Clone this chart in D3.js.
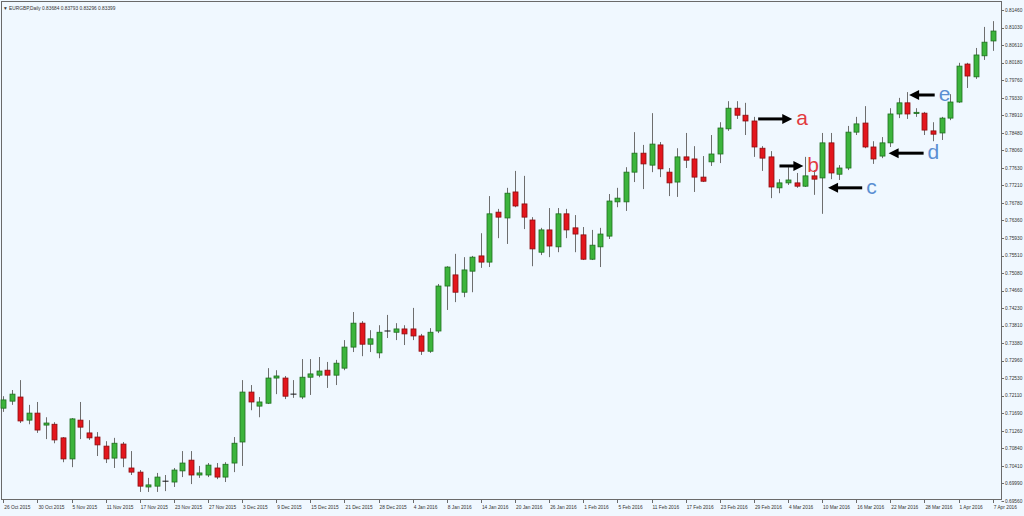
<!DOCTYPE html>
<html>
<head>
<meta charset="utf-8">
<script src="https://cdn.jsdelivr.net/npm/d3@7"></script>
<style>
  body { margin: 0; background: #f0f8ff; overflow: hidden; }
  text { font-family: "Liberation Sans", Arial, sans-serif; }
</style>
</head>
<body>
<div id="chart"></div>
<script>
// daily EURGBP candles, 26 Oct 2015 .. 7 Apr 2016
const open = [
  .7181, .7198, .7208, .7152, .7169, .7140, .7142, .7109, .7058, .7152,
  .7121, .7111, .7089, .7060, .7094, .7036, .7026, .6990, .6992, .7004,
  .7002, .7029, .7055, .7019, .7019, .7036, .7014, .7048, .7099, .7220,
  .7186, .7193, .7254, .7254, .7215, .7208, .7256, .7261, .7273, .7261,
  .7278, .7329, .7387, .7336, .7315, .7368, .7365, .7373, .7373, .7356,
  .7319, .7368, .7477, .7504, .7462, .7513, .7550, .7535, .7656, .7642,
  .7705, .7676, .7637, .7559, .7613, .7572, .7652, .7618, .7601, .7542,
  .7572, .7598, .7681, .7681, .7753, .7799, .7770, .7819, .7753, .7729,
  .7790, .7785, .7741, .7778, .7797, .7858, .7908, .7891, .7877, .7811,
  .7790, .7715, .7727, .7727, .7719, .7744, .7739, .7824, .7748, .7763,
  .7850, .7872, .7814, .7792, .7824, .7894, .7921, .7895, .7896, .7853,
  .7848, .7884, .7923, .8015, .7984, .8035, .8071
];
const high = [
  .7210, .7225, .7249, .7189, .7196, .7159, .7147, .7111, .7157, .7196,
  .7152, .7123, .7101, .7109, .7099, .7077, .7031, .7012, .7024, .7019,
  .7036, .7077, .7077, .7041, .7048, .7048, .7050, .7111, .7249, .7237,
  .7208, .7278, .7273, .7259, .7249, .7300, .7300, .7305, .7293, .7298,
  .7346, .7414, .7392, .7370, .7382, .7407, .7387, .7382, .7424, .7361,
  .7375, .7482, .7525, .7555, .7547, .7550, .7605, .7695, .7664, .7715,
  .7756, .7744, .7644, .7618, .7666, .7666, .7664, .7649, .7620, .7613,
  .7618, .7700, .7715, .7765, .7850, .7819, .7896, .7826, .7763, .7811,
  .7848, .7816, .7792, .7843, .7874, .7925, .7925, .7921, .7887, .7816,
  .7804, .7736, .7765, .7751, .7790, .7758, .7848, .7848, .7770, .7865,
  .7887, .7913, .7828, .7838, .7908, .7933, .7947, .7908, .7899, .7874,
  .7887, .7942, .8018, .8018, .8054, .8105, .8119
];
const low = [
  .7172, .7189, .7145, .7142, .7121, .7106, .7096, .7050, .7038, .7106,
  .7104, .7065, .7048, .7036, .7038, .7019, .6978, .6978, .6978, .6980,
  .6990, .7014, .6997, .7012, .7014, .7009, .7002, .7026, .7041, .7176,
  .7159, .7191, .7215, .7203, .7206, .7203, .7213, .7256, .7230, .7237,
  .7273, .7317, .7307, .7317, .7302, .7351, .7346, .7334, .7346, .7310,
  .7315, .7363, .7419, .7438, .7450, .7462, .7521, .7523, .7593, .7579,
  .7668, .7615, .7525, .7552, .7547, .7559, .7593, .7559, .7540, .7540,
  .7523, .7591, .7668, .7659, .7729, .7712, .7753, .7741, .7695, .7693,
  .7763, .7705, .7729, .7768, .7775, .7853, .7882, .7843, .7790, .7756,
  .7690, .7702, .7722, .7715, .7717, .7698, .7652, .7736, .7734, .7758,
  .7843, .7811, .7773, .7787, .7814, .7884, .7882, .7887, .7843, .7828,
  .7831, .7879, .7921, .7957, .7979, .8025, .8047
];
const close = [
  .7201, .7215, .7150, .7169, .7128, .7145, .7104, .7058, .7155, .7135,
  .7109, .7092, .7058, .7096, .7060, .7026, .6992, .6995, .7014, .7004,
  .7031, .7048, .7019, .7024, .7043, .7014, .7045, .7096, .7220, .7196,
  .7196, .7254, .7259, .7210, .7215, .7256, .7264, .7271, .7261, .7290,
  .7329, .7387, .7336, .7349, .7365, .7368, .7373, .7361, .7356, .7319,
  .7365, .7477, .7523, .7462, .7516, .7547, .7535, .7652, .7644, .7702,
  .7671, .7644, .7567, .7613, .7574, .7652, .7613, .7603, .7542, .7576,
  .7603, .7683, .7690, .7753, .7799, .7773, .7821, .7761, .7727, .7790,
  .7782, .7741, .7731, .7797, .7860, .7908, .7891, .7877, .7814, .7787,
  .7717, .7727, .7734, .7719, .7744, .7736, .7824, .7751, .7763, .7850,
  .7870, .7814, .7785, .7824, .7894, .7921, .7894, .7898, .7855, .7845,
  .7884, .7923, .8010, .7986, .8037, .8068, .8095
];

// no bars on these days
const holidays = ["25 Dec 2015", "1 Jan 2016"];

const xTickLabels = [
  "26 Oct 2015", "30 Oct 2015", "5 Nov 2015", "11 Nov 2015", "17 Nov 2015",
  "23 Nov 2015", "27 Nov 2015", "3 Dec 2015", "9 Dec 2015", "15 Dec 2015",
  "21 Dec 2015", "28 Dec 2015", "4 Jan 2016", "8 Jan 2016", "14 Jan 2016",
  "20 Jan 2016", "26 Jan 2016", "1 Feb 2016", "5 Feb 2016", "11 Feb 2016",
  "17 Feb 2016", "23 Feb 2016", "29 Feb 2016", "4 Mar 2016", "10 Mar 2016",
  "16 Mar 2016", "22 Mar 2016", "28 Mar 2016", "1 Apr 2016", "7 Apr 2016"
];
const yTickLabels = [
  "0.81460", "0.81030", "0.80610", "0.80180", "0.79760", "0.79330", "0.78910",
  "0.78480", "0.78060", "0.77630", "0.77210", "0.76780", "0.76360", "0.75930",
  "0.75510", "0.75080", "0.74660", "0.74230", "0.73810", "0.73380", "0.72960",
  "0.72530", "0.72110", "0.71690", "0.71260", "0.70840", "0.70410", "0.69990",
  "0.69560"
];

// arrows: tail and head are bar positions, price is the arrow level
const notes = [
  { text: "a", color: "#e23b3f", tail: 88.5, head: 92.5, price: 0.7882 },
  { text: "b", color: "#e23b3f", tail: 91.0, head: 93.8, price: 0.7768 },
  { text: "c", color: "#5b8fd2", tail: 100.7, head: 96.7, price: 0.7715 },
  { text: "d", color: "#5b8fd2", tail: 107.9, head: 103.8, price: 0.7799 },
  { text: "e", color: "#5b8fd2", tail: 109.2, head: 106.2, price: 0.7940 }
];

const width = 1024, height = 516;
const frame = { left: 1, top: 1, right: 1001, bottom: 499 };

const fmt = d3.utcFormat("%-d %b %Y");
const dates = d3.utcDays(new Date(Date.UTC(2015, 9, 26)), new Date(Date.UTC(2016, 3, 8)))
  .filter(d => d.getUTCDay() % 6 !== 0 && !holidays.includes(fmt(d)))
  .map(fmt);

const bars = dates.map((d, i) => ({ date: d, i: i, o: open[i], h: high[i], l: low[i], c: close[i] }));

const svg = d3.select("#chart")
  .append("svg")
  .attr("width", width)
  .attr("height", height);

svg.append("rect")
  .attr("width", width)
  .attr("height", height)
  .attr("fill", "#f0f8ff");

const x = d3.scaleLinear()
  .domain([0, bars.length - 1])
  .range([3.3, 992.7]);

const y = d3.scaleLinear()
  .domain([0.69560, 0.81460])
  .range([501, 10]);

// frame
svg.append("rect")
  .attr("x", frame.left + 0.5)
  .attr("y", frame.top + 0.5)
  .attr("width", frame.right - frame.left)
  .attr("height", frame.bottom - frame.top)
  .attr("fill", "none")
  .attr("stroke", "#6a6a6a")
  .attr("stroke-width", 1);

// header
svg.append("text")
  .attr("x", 3)
  .attr("y", 9.5)
  .attr("font-size", 4.8)
  .attr("fill", "#333")
  .text("\u25BC EURGBP,Daily  0.83684 0.83793 0.83296 0.83399");

// price axis on the right
const yAxis = svg.append("g");
yAxis.selectAll("line")
  .data(yTickLabels)
  .join("line")
  .attr("x1", frame.right + 0.5)
  .attr("x2", frame.right + 3)
  .attr("y1", d => Math.round(y(+d)) + 0.5)
  .attr("y2", d => Math.round(y(+d)) + 0.5)
  .attr("stroke", "#6a6a6a");
yAxis.selectAll("text")
  .data(yTickLabels)
  .join("text")
  .attr("x", frame.right + 4)
  .attr("y", d => y(+d))
  .attr("dy", "0.35em")
  .attr("font-size", 4.8)
  .attr("fill", "#333")
  .text(d => d);

// date axis at the bottom
const xAxis = svg.append("g");
const tickIdx = xTickLabels.map(t => dates.indexOf(t));
xAxis.selectAll("line")
  .data(tickIdx)
  .join("line")
  .attr("x1", i => Math.round(x(i)) + 0.5)
  .attr("x2", i => Math.round(x(i)) + 0.5)
  .attr("y1", frame.bottom + 0.5)
  .attr("y2", frame.bottom + 4)
  .attr("stroke", "#6a6a6a");
xAxis.selectAll("text")
  .data(tickIdx)
  .join("text")
  .attr("x", i => x(i) + 1)
  .attr("y", frame.bottom + 9.5)
  .attr("font-size", 4.8)
  .attr("fill", "#333")
  .text(i => dates[i]);

// candles
const candles = svg.append("g")
  .selectAll("g")
  .data(bars)
  .join("g");

candles.append("line")
  .attr("x1", d => Math.round(x(d.i)) + 0.5)
  .attr("x2", d => Math.round(x(d.i)) + 0.5)
  .attr("y1", d => y(d.h))
  .attr("y2", d => y(d.l))
  .attr("stroke", "#6e6e6e")
  .attr("stroke-width", 1);

candles.filter(d => d.o !== d.c)
  .append("rect")
  .attr("x", d => Math.round(x(d.i)) - 2)
  .attr("y", d => y(Math.max(d.o, d.c)))
  .attr("width", 5)
  .attr("height", d => Math.max(1, y(Math.min(d.o, d.c)) - y(Math.max(d.o, d.c))))
  .attr("fill", d => d.c > d.o ? "#3cb43c" : "#e3161d")
  .attr("stroke", d => d.c > d.o ? "#1f6e1f" : "#8a0d10")
  .attr("stroke-width", 0.8);

candles.filter(d => d.o === d.c)
  .append("line")
  .attr("x1", d => Math.round(x(d.i)) - 2.5)
  .attr("x2", d => Math.round(x(d.i)) + 3.5)
  .attr("y1", d => y(d.c))
  .attr("y2", d => y(d.c))
  .attr("stroke", "#111")
  .attr("stroke-width", 1);

// annotations
const ann = svg.append("g")
  .selectAll("g")
  .data(notes)
  .join("g");

ann.append("line")
  .attr("x1", d => x(d.tail))
  .attr("x2", d => x(d.head) - 7 * Math.sign(d.head - d.tail))
  .attr("y1", d => y(d.price))
  .attr("y2", d => y(d.price))
  .attr("stroke", "#000")
  .attr("stroke-width", 3);

ann.append("path")
  .attr("d", d => {
    const hx = x(d.head), hy = y(d.price), s = Math.sign(d.head - d.tail);
    return `M${hx},${hy}L${hx - 10 * s},${hy - 5}L${hx - 10 * s},${hy + 5}Z`;
  })
  .attr("fill", "#000");

ann.append("text")
  .attr("x", d => Math.max(x(d.head), x(d.tail)) + 4)
  .attr("y", d => y(d.price) + 6)
  .attr("font-family", "'Open Sans', 'Noto Sans', sans-serif")
  .attr("font-size", 21)
  .attr("fill", d => d.color)
  .text(d => d.text);
</script>
</body>
</html>
